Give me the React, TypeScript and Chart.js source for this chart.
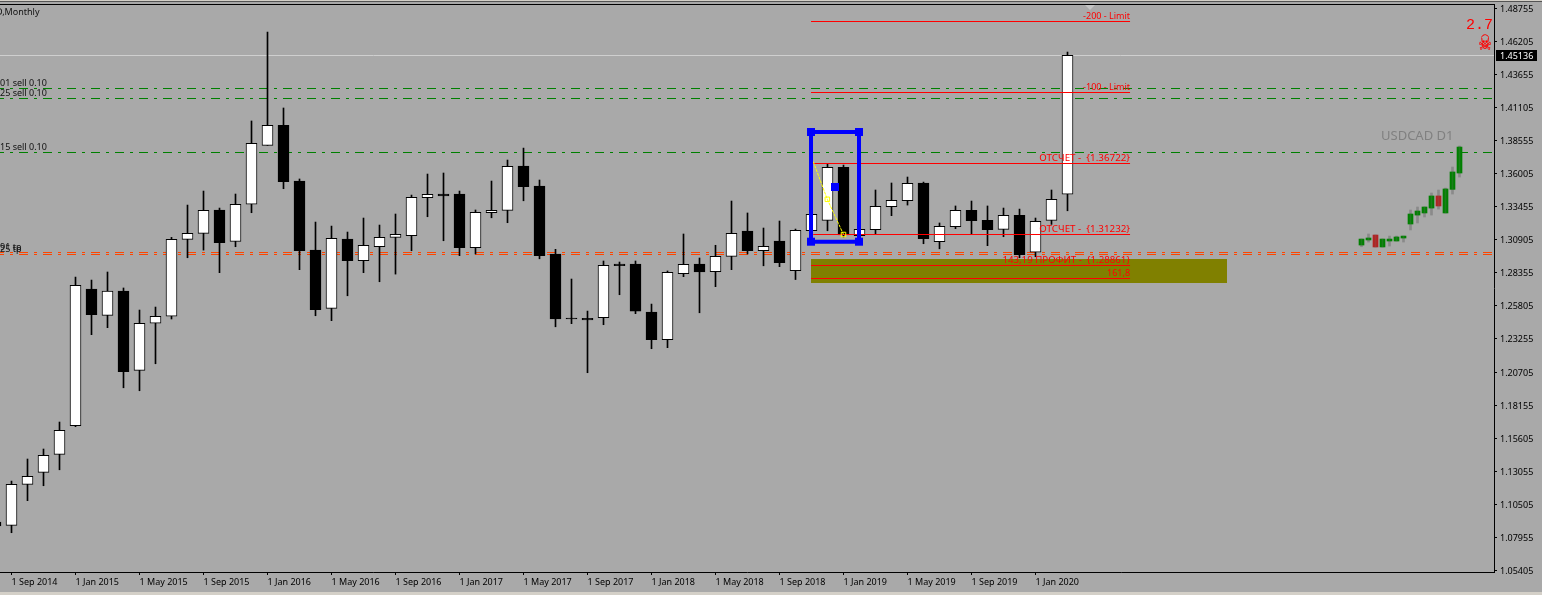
import React, { useEffect, useRef } from "react";
import { Chart, registerables } from "chart.js";

Chart.register(...registerables);

const firstBar = -1;
const opens = [1.0914,1.0889,1.1205,1.1297,1.1436,1.1656,1.2710,1.2507,1.2694,1.2083,1.2446,1.2500,1.3093,1.3139,1.3319,1.3077,1.3363,1.3817,1.3971,1.3542,1.3010,1.2561,1.3095,1.2928,1.3036,1.3108,1.3121,1.3414,1.3442,1.3442,1.3028,1.3298,1.3316,1.3658,1.3504,1.2980,1.2486,1.2484,1.2489,1.2903,1.2903,1.2533,1.2319,1.2828,1.2903,1.2843,1.2962,1.3157,1.3005,1.3080,1.2852,1.3159,1.3239,1.3648,1.3121,1.3167,1.3344,1.3390,1.3527,1.3074,1.3190,1.3316,1.3239,1.3170,1.3278,1.2993,1.3239,1.3440];
const highs = [1.0930,1.1230,1.1400,1.1477,1.1685,1.2802,1.2779,1.2841,1.2718,1.2548,1.2571,1.3108,1.3357,1.3465,1.3334,1.3442,1.4005,1.4690,1.4105,1.3558,1.3226,1.3195,1.3149,1.3257,1.3203,1.3288,1.3434,1.3596,1.3604,1.3465,1.3319,1.3542,1.3704,1.3796,1.3550,1.3016,1.2787,1.2540,1.2926,1.2918,1.2926,1.2594,1.2849,1.3134,1.2949,1.3047,1.3388,1.3296,1.3180,1.3234,1.3172,1.3303,1.3675,1.3665,1.3188,1.3473,1.3527,1.3573,1.3534,1.3219,1.3350,1.3388,1.3350,1.3334,1.3326,1.3257,1.3473,1.4536];
const lows = [1.0860,1.0832,1.1079,1.1194,1.1317,1.1649,1.2358,1.2412,1.1949,1.1926,1.2134,1.2479,1.2951,1.3010,1.2836,1.3036,1.3298,1.3817,1.3483,1.2859,1.2504,1.2466,1.2658,1.2836,1.2766,1.2825,1.3005,1.3267,1.3082,1.2967,1.2980,1.3259,1.3221,1.3390,1.2943,1.2419,1.2443,1.2065,1.2435,1.2666,1.2520,1.2250,1.2258,1.2805,1.2527,1.2728,1.2859,1.2980,1.2889,1.2882,1.2783,1.3141,1.3159,1.3111,1.3111,1.3131,1.3275,1.3357,1.3059,1.3020,1.3175,1.3131,1.3044,1.3113,1.2951,1.2959,1.3208,1.3313];
const closes = [1.0884,1.1205,1.1267,1.1428,1.1621,1.2738,1.2512,1.2694,1.2073,1.2446,1.2500,1.3093,1.3139,1.3316,1.3067,1.3363,1.3833,1.3971,1.3537,1.3005,1.2550,1.3101,1.2928,1.3047,1.3108,1.3131,1.3417,1.3440,1.3427,1.3028,1.3301,1.3316,1.3655,1.3498,1.2967,1.2479,1.2479,1.2471,1.2893,1.2889,1.2540,1.2319,1.2839,1.2900,1.2841,1.2962,1.3139,1.3005,1.3039,1.2913,1.3162,1.3286,1.3648,1.3126,1.3170,1.3347,1.3393,1.3524,1.3098,1.3193,1.3316,1.3236,1.3167,1.3278,1.2974,1.3232,1.3401,1.4511];

const miniFirstX = 84.375;
const miniStep = 0.4375;
const miniOpens = [1.3049,1.3088,1.3126,1.3034,1.3080,1.3080,1.3103,1.3211,1.3280,1.3296,1.3334,1.3427,1.3296,1.3478,1.3604];
const miniHighs = [1.3095,1.3134,1.3126,1.3095,1.3118,1.3118,1.3118,1.3319,1.3342,1.3342,1.3450,1.3473,1.3488,1.3650,1.3812];
const miniLows = [1.3036,1.3072,1.3034,1.3034,1.3041,1.3080,1.3072,1.3165,1.3219,1.3265,1.3280,1.3326,1.3296,1.3442,1.3573];
const miniCloses = [1.3095,1.3103,1.3034,1.3095,1.3095,1.3111,1.3118,1.3288,1.3311,1.3342,1.3427,1.3350,1.3481,1.3612,1.3804];

const xTickLabels = ["1 Sep 2014","1 Jan 2015","1 May 2015","1 Sep 2015","1 Jan 2016","1 May 2016","1 Sep 2016","1 Jan 2017","1 May 2017","1 Sep 2017","1 Jan 2018","1 May 2018","1 Sep 2018","1 Jan 2019","1 May 2019","1 Sep 2019","1 Jan 2020"];
const monthsPerTick = 4;
const yTickValues = [1.48755,1.46205,1.43655,1.41105,1.38555,1.36005,1.33455,1.30905,1.28355,1.25805,1.23255,1.20705,1.18155,1.15605,1.13055,1.10505,1.07955,1.05405];

const xMin = -0.71875;
const xMax = 92.65625;
const yMax = 1.49064;
const yMin = 1.05293;

const bidLine = 1.45095;
const bidLabel = "1.45136";
const greenLevels = [1.42552, 1.41781, 1.3762];
const orangeLevels = [1.29914, 1.2976];

const redLevels = [
  { y: 1.47715, from: 49.97, text: "-200 - Limit", size: 9 },
  { y: 1.42244, from: 49.97, text: "-100 - Limit", size: 9 },
  { y: 1.36772, from: 50.11, text: "ОТСЧЕТ -  {1.36722}", size: 9.8 },
  { y: 1.31301, from: 50.11, text: "ОТСЧЕТ -  {1.31232}", size: 9.8 },
  { y: 1.28912, from: 49.97, text: "143,19 ПРОФИТ -  {1.28861}", size: 9.7 },
  { y: 1.2791, from: 49.97, text: "161,8", size: 9 },
];
const redEnd = 69.91;

const zoneX = [49.97, 75.97];
const zoneTop = 1.29413;
const zoneBottom = 1.27563;

const boxX = [49.969, 52.969];
const boxY = [1.392, 1.30746];
const boxHandle = { x: 51.469, y: 1.34961 };
const trendX = [50.11, 50.99, 52.0];
const trendY = [1.36911, 1.34014, 1.31301];

const leftLabels = [
  { y: 1.42552, text: "01 sell 0.10" },
  { y: 1.41781, text: "25 sell 0.10" },
  { y: 1.3762, text: "15 sell 0.10" },
  { y: 1.29914, text: "91 tp" },
  { y: 1.2976, text: "25 tp" },
];

const BG = "#a9a9a9";
const FONT = '"Noto Sans", sans-serif';

const candleBodies = opens.map((o, i) => ({ x: firstBar + i, y: [Math.min(o, closes[i]), Math.max(o, closes[i])] }));
const candleWicks = highs.map((h, i) => ({ x: firstBar + i, y: [lows[i], h] }));
const miniBodies = miniOpens.map((o, i) => ({ x: miniFirstX + i * miniStep, y: [Math.min(o, miniCloses[i]), Math.max(o, miniCloses[i])] }));
const miniWicks = miniHighs.map((h, i) => ({ x: miniFirstX + i * miniStep, y: [miniLows[i], h] }));

function hline(y: number, color: string, dash: number[] | undefined, order: number, from = xMin, to = xMax) {
  return {
    type: "line",
    data: [{ x: from, y }, { x: to, y }],
    borderColor: color,
    borderWidth: 1,
    borderDash: dash,
    borderDashOffset: dash ? 5 : 0,
    pointRadius: 0,
    order,
  };
}

const chrome = {
  id: "chrome",
  beforeDraw(chart: any) {
    const { ctx, width, height } = chart;
    if (!chart.$tickNudged) {
      chart.scales.y.getLabelItems().forEach((item: any) => {
        item.textOffset += 1;
      });
      chart.$tickNudged = true;
    }
    ctx.save();
    ctx.fillStyle = BG;
    ctx.fillRect(0, 0, width, height);
    ctx.fillStyle = "#d4d0c8";
    ctx.fillRect(0, 0, width, 1);
    ctx.fillRect(0, 592, width, 3);
    ctx.fillStyle = "#555555";
    ctx.fillRect(0, 1, width, 1);
    ctx.fillStyle = "#000000";
    ctx.fillRect(0, 4, 1495, 1);
    ctx.fillStyle = "#c4c4c4";
    ctx.beginPath();
    ctx.moveTo(1085, 5);
    ctx.lineTo(1095, 5);
    ctx.lineTo(1090, 10);
    ctx.closePath();
    ctx.fill();
    ctx.restore();
  },
  afterDraw(chart: any) {
    const { ctx, scales } = chart;
    const X = scales.x;
    const Y = scales.y;
    ctx.save();
    ctx.textBaseline = "middle";

    ctx.fillStyle = "#000000";
    ctx.fillRect(1496, Y.getPixelForValue(bidLine) - 5.5, 41, 11);
    ctx.fillStyle = "#ffffff";
    ctx.font = `9px ${FONT}`;
    ctx.textAlign = "left";
    ctx.fillText(bidLabel, 1500, Y.getPixelForValue(bidLine) + 1);

    ctx.fillStyle = "#ff0000";
    ctx.textAlign = "right";
    for (const r of redLevels) {
      ctx.font = `${r.size}px ${FONT}`;
      ctx.fillText(r.text, X.getPixelForValue(redEnd), Y.getPixelForValue(r.y) - 5.5);
    }

    ctx.font = `9px ${FONT}`;
    ctx.fillStyle = "#111111";
    ctx.textAlign = "left";
    for (const l of leftLabels) {
      ctx.fillText(l.text, 0, Y.getPixelForValue(l.y) - 5.5);
    }
    ctx.fillText("D,Monthly", -4, 12.5);

    ctx.fillStyle = "#808080";
    ctx.font = `13px ${FONT}`;
    ctx.fillText("USDCAD D1", 1381, 136.5);

    ctx.fillStyle = "#ff0000";
    ctx.font = `15px "Liberation Mono", monospace`;
    ctx.fillText("2.7", 1466, 25);
    ctx.font = `21px "DejaVu Sans", sans-serif`;
    ctx.textAlign = "center";
    ctx.translate(1485, 45);
    ctx.scale(0.72, 1);
    ctx.fillText("☠", 0, 0);
    ctx.fillText("☠", 0, 0);
    ctx.restore();
  },
};

export default function App() {
  const ref = useRef<HTMLCanvasElement>(null);
  useEffect(() => {
    const chart = new Chart(ref.current as any, {
      type: "bar",
      data: {
        datasets: [
          {
            type: "line",
            data: [{ x: zoneX[0], y: zoneTop }, { x: zoneX[1], y: zoneTop }],
            borderWidth: 0,
            pointRadius: 0,
            backgroundColor: "#808000",
            fill: { value: zoneBottom },
            order: 20,
          },
          hline(bidLine, "#cfcfcf", undefined, 19),
          ...greenLevels.map((v) => hline(v, "#008000", [9, 6, 3, 6], 18)),
          ...orangeLevels.map((v) => hline(v, "#ff4500", [9, 6, 3, 6], 17)),
          {
            data: miniWicks,
            backgroundColor: "#8a8a8a",
            barThickness: 2,
            grouped: false,
            order: 16,
          },
          {
            data: miniBodies,
            backgroundColor: miniOpens.map((o, i) => (miniCloses[i] >= o ? "#008000" : "#b22222")),
            barThickness: 5,
            grouped: false,
            order: 15,
          },
          {
            data: miniBodies,
            backgroundColor: "rgba(110,110,110,0.25)",
            barThickness: 1,
            grouped: false,
            order: 14.5,
          },
          {
            data: candleWicks,
            backgroundColor: "#000000",
            barThickness: 1,
            grouped: false,
            order: 14,
          },
          {
            data: candleBodies,
            backgroundColor: opens.map((o, i) => (closes[i] >= o ? "#ffffff" : "#000000")),
            borderColor: "#000000",
            borderWidth: 1,
            borderSkipped: false,
            barThickness: 11,
            grouped: false,
            order: 13,
          },
          ...redLevels.map((r) => hline(r.y, "#ff0000", undefined, 12, r.from, redEnd)),
          {
            type: "line",
            data: trendX.map((x, i) => ({ x, y: trendY[i] })),
            borderColor: "#ffff00",
            borderWidth: 1,
            borderDash: [3, 1],
            pointStyle: "rect",
            pointRadius: [0, 3.2, 3.2],
            pointBorderColor: "#ffff00",
            pointBorderWidth: 1,
            pointBackgroundColor: "rgba(0,0,0,0)",
            order: 11,
          },
          {
            type: "line",
            data: [
              { x: boxX[0], y: boxY[0] },
              { x: boxX[1], y: boxY[0] },
              { x: boxX[1], y: boxY[1] },
              { x: boxX[0], y: boxY[1] },
              { x: boxX[0], y: boxY[0] },
            ],
            borderColor: "#0000ff",
            borderWidth: 4,
            pointStyle: "rect",
            pointRadius: 5.66,
            pointBackgroundColor: "#0000ff",
            pointBorderWidth: 0,
            order: 10,
          },
          {
            type: "line",
            data: [boxHandle],
            showLine: false,
            pointStyle: "rect",
            pointRadius: 5.66,
            pointBackgroundColor: "#0000ff",
            pointBorderWidth: 0,
            order: 9,
          },
        ] as any,
      },
      options: {
        animation: false,
        responsive: false,
        devicePixelRatio: 1,
        layout: { autoPadding: false, padding: { top: 4, left: 0, right: 0, bottom: 0 } },
        plugins: { legend: { display: false }, title: { display: false }, tooltip: { enabled: false } },
        scales: {
          x: {
            type: "linear",
            offset: false,
            min: xMin,
            max: xMax,
            afterBuildTicks: (axis: any) => {
              axis.ticks = xTickLabels.map((_, i) => ({ value: i * monthsPerTick }));
            },
            afterFit: (axis: any) => {
              axis.height = 23;
              axis.paddingLeft = 0;
              axis.paddingRight = 0;
            },
            grid: { offset: false, drawOnChartArea: false, drawTicks: true, tickLength: 3, color: "#000000" },
            border: { display: true, color: "#000000", width: 1 },
            ticks: {
              autoSkip: false,
              maxRotation: 0,
              minRotation: 0,
              align: "start",
              padding: 2,
              color: "#000000",
              font: { family: FONT, size: 9 },
              callback: (v: any) => xTickLabels[Math.round(Number(v) / monthsPerTick)] ?? "",
            },
          },
          y: {
            position: "right",
            min: yMin,
            max: yMax,
            afterBuildTicks: (axis: any) => {
              axis.ticks = yTickValues.map((value) => ({ value }));
            },
            afterFit: (axis: any) => {
              axis.width = 48;
              axis.paddingTop = 0;
              axis.paddingBottom = 0;
            },
            grid: { drawOnChartArea: false, drawTicks: true, tickLength: 3, color: "#000000" },
            border: { display: true, color: "#000000", width: 1 },
            ticks: {
              autoSkip: false,
              padding: 3,
              color: "#000000",
              font: { family: FONT, size: 9 },
              callback: (v: any) => Number(v).toFixed(5),
            },
          },
        },
      } as any,
      plugins: [chrome],
    });
    return () => chart.destroy();
  }, []);
  return (
    <div style={{ position: "absolute", left: 0, top: 0, width: 1542, height: 595, overflow: "hidden", background: BG }}>
      <canvas ref={ref} width={1542} height={595} style={{ display: "block" }} />
    </div>
  );
}
